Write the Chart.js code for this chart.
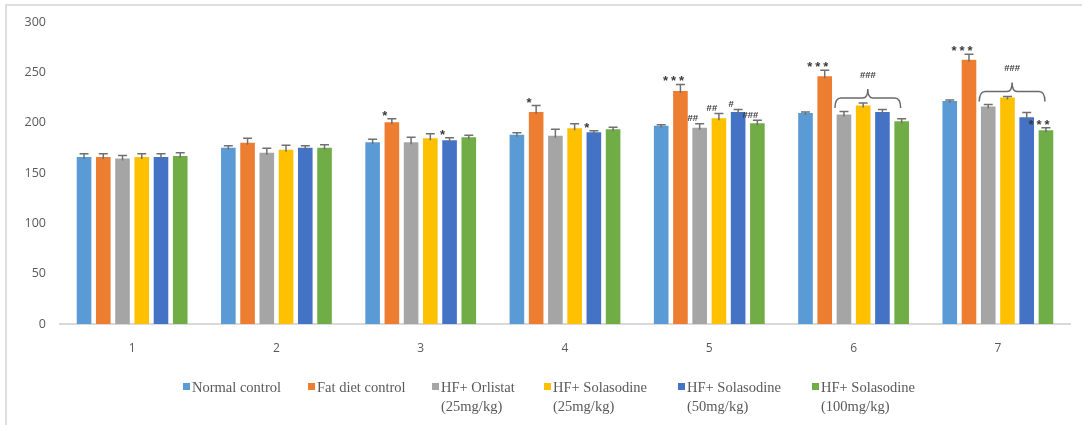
<!DOCTYPE html>
<html><head><meta charset="utf-8">
<script src="https://cdn.jsdelivr.net/npm/chart.js@4.4.1/dist/chart.umd.min.js"></script>
<style>
html,body{margin:0;padding:0;background:#fff;}
#wrap{position:relative;width:1082px;height:425px;overflow:hidden;background:#fff;}
#frame{position:absolute;left:5px;top:4px;width:1200px;height:500px;border-left:2px solid #dedede;border-top:2px solid #dedede;box-sizing:border-box;}
canvas{position:absolute;left:0;top:0;}
.li{position:absolute;top:378px;font-family:"Liberation Serif","Times New Roman",serif;font-size:14.5px;color:#595959;line-height:19px;white-space:pre;}
.sw{position:absolute;left:0;top:5px;width:7px;height:7px;}
.tx{position:absolute;left:9px;top:0;}
</style></head>
<body>
<div id="wrap">
  <div id="frame"></div>
  <canvas id="c" width="1082" height="425"></canvas>
  <div id="legend"></div>
</div>
<script>
// ---- data ----
const categories = ['1','2','3','4','5','6','7'];
const seriesNames = ['Normal control','Fat diet control','HF+ Orlistat\n(25mg/kg)','HF+ Solasodine\n(25mg/kg)','HF+ Solasodine\n(50mg/kg)','HF+ Solasodine\n(100mg/kg)'];
const normalControl = [166, 175, 180.5, 188, 197, 209.5, 221.5];
const fatDiet       = [166, 180, 200.5, 210.5, 231.5, 246, 262.5];
const orlistat25    = [164.5, 170, 180.5, 187, 195, 208, 216];
const solasodine25  = [166, 173, 184.5, 194.5, 204.5, 217, 225];
const solasodine50  = [166, 175, 182.5, 190.5, 210.5, 210.5, 205.5];
const solasodine100 = [167, 175, 185.5, 193.5, 199.5, 201.5, 192.5];
const errNormal = [3, 2, 3, 2, 1, 1, 1];
const errFat    = [3, 4.5, 3.5, 6.5, 6.5, 6, 5.5];
const errOrl    = [3, 4.5, 5, 6.5, 4, 3, 2];
const errSol25  = [3, 4.5, 4.5, 4.5, 4.5, 2.5, 1];
const errSol50  = [3, 2, 2.5, 1.5, 2.5, 2.5, 4.5];
const errSol100 = [3, 3, 2, 2, 3, 2.5, 2.5];
const marksNormal = ['','','','','','',''];
const marksFat    = ['','','*','*','***','***','***'];
const marksOrl    = ['','','','','##','',''];
const marksSol25  = ['','','','','##','',''];
const marksSol50  = ['','','*','*','#','',''];
const marksSol100 = ['','','','','###','','***'];
const braceGroups = [5, 6];          // category indexes with a bracket over series 2..5
const braceLabel = '###';
const yTicks = [0, 50, 100, 150, 200, 250, 300];

const seriesValues = [normalControl, fatDiet, orlistat25, solasodine25, solasodine50, solasodine100];
const seriesErrors = [errNormal, errFat, errOrl, errSol25, errSol50, errSol100];
const seriesMarks  = [marksNormal, marksFat, marksOrl, marksSol25, marksSol50, marksSol100];
const colors = ['#5B9BD5','#ED7D31','#A5A5A5','#FFC000','#4472C4','#70AD47'];
const legendX = [183, 308, 432, 544, 678, 812];

// ---- legend (HTML) ----
const lg = document.getElementById('legend');
seriesNames.forEach((n, i) => {
  const d = document.createElement('div');
  d.className = 'li';
  d.style.left = legendX[i] + 'px';
  const s = document.createElement('div'); s.className = 'sw'; s.style.background = colors[i];
  const t = document.createElement('div'); t.className = 'tx'; t.textContent = n;
  d.appendChild(s); d.appendChild(t); lg.appendChild(d);
});

// ---- plugin: error bars, significance marks, brackets ----
function drawMark(ctx, txt, x, y) {
  if (txt.indexOf('*') >= 0) {
    ctx.font = 'bold 13px "Liberation Sans", sans-serif';
    const n = txt.length, step = 8;
    for (let k = 0; k < n; k++) ctx.fillText('*', x + (k - (n - 1) / 2) * step, y + 2.5);
  } else {
    ctx.font = 'bold 9.5px "Liberation Sans", sans-serif';
    ctx.fillText(txt, x, y);
  }
}
const errPlugin = {
  id: 'errs',
  afterDatasetsDraw(chart) {
    const ctx = chart.ctx, ys = chart.scales.y;
    ctx.save();
    ctx.textAlign = 'center';
    ctx.textBaseline = 'middle';
    ctx.fillStyle = '#3a3a3a';
    const tops = [];
    chart.data.datasets.forEach((ds, i) => {
      const meta = chart.getDatasetMeta(i);
      tops[i] = [];
      meta.data.forEach((bar, j) => {
        const top = ys.getPixelForValue(ds.data[j] + seriesErrors[i][j]);
        tops[i][j] = top;
        ctx.strokeStyle = '#707070';
        ctx.lineWidth = 1.5;
        ctx.beginPath();
        ctx.moveTo(bar.x, bar.y + 2); ctx.lineTo(bar.x, top);
        ctx.moveTo(bar.x - 4.5, top); ctx.lineTo(bar.x + 4.5, top);
        ctx.stroke();
        const m = seriesMarks[i][j];
        if (m) drawMark(ctx, m, bar.x - 7, top - 5);
      });
    });
    braceGroups.forEach(g => {
      const b0 = chart.getDatasetMeta(2).data[g], b1 = chart.getDatasetMeta(5).data[g];
      const x0 = b0.x - 9, x1 = b1.x - 1, mid = (x0 + x1) / 2;
      let minTop = Infinity;
      for (let s = 2; s <= 5; s++) minTop = Math.min(minTop, tops[s][g]);
      const line = minTop - 5, ends = line + 10, tip = line - 9;
      ctx.strokeStyle = '#6a6a6a';
      ctx.lineWidth = 1.5;
      ctx.beginPath();
      ctx.moveTo(x0, ends);
      ctx.quadraticCurveTo(x0, line, x0 + 6, line);
      ctx.lineTo(mid - 5, line);
      ctx.quadraticCurveTo(mid, line, mid, tip);
      ctx.quadraticCurveTo(mid, line, mid + 5, line);
      ctx.lineTo(x1 - 6, line);
      ctx.quadraticCurveTo(x1, line, x1, ends);
      ctx.stroke();
      drawMark(ctx, braceLabel, mid, tip - 14);
    });
    ctx.restore();
  }
};

new Chart(document.getElementById('c'), {
  type: 'bar',
  data: {
    labels: categories,
    datasets: seriesValues.map((v, i) => ({
      label: seriesNames[i].replace('\n', ' '),
      data: v,
      backgroundColor: colors[i],
      borderWidth: 0,
      categoryPercentage: 0.80,
      barPercentage: 0.76
    }))
  },
  options: {
    responsive: false,
    animation: false,
    devicePixelRatio: 1,
    layout: { padding: { left: 0, right: 12, top: 22, bottom: 66 } },
    plugins: { legend: { display: false }, tooltip: { enabled: false } },
    scales: {
      x: {
        grid: { display: false, drawTicks: false },
        border: { display: true, color: '#d9d9d9', width: 2 },
        ticks: { color: '#595959', font: { family: '"Open Sans", sans-serif', size: 12 }, padding: 17 },
        afterFit: s => { s.height = 35; }
      },
      y: {
        min: 0, max: 300,
        afterBuildTicks: s => { s.ticks = yTicks.map(v => ({ value: v })); },
        grid: { display: false, drawTicks: false },
        border: { display: false },
        ticks: { color: '#595959', font: { family: '"Open Sans", sans-serif', size: 12.5 }, padding: 14 },
        afterFit: s => { s.width = 60; }
      }
    }
  },
  plugins: [errPlugin]
});
</script>
</body></html>
